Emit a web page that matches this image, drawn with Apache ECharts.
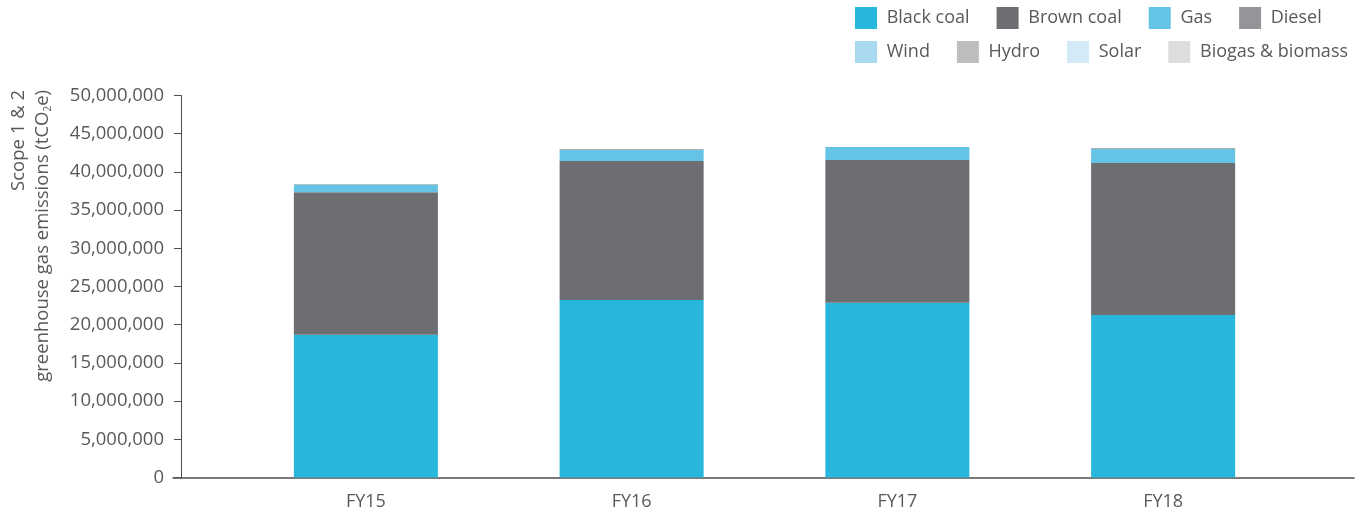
<!DOCTYPE html>
<html>
<head>
<meta charset="utf-8">
<script src="https://cdn.jsdelivr.net/npm/echarts@6/dist/echarts.min.js"></script>
<style>html,body{margin:0;padding:0;background:#fff}#c{width:1368px;height:515px}</style>
</head>
<body>
<div id="c"></div>
<script>
const categories = ['FY15', 'FY16', 'FY17', 'FY18'];
const blackCoal = [18700000, 23230000, 22880000, 21270000];
const brownCoal = [18640000, 18200000, 18680000, 19890000];
const gas = [970000, 1440000, 1700000, 1850000];
const diesel = [80000, 100000, 0, 100000];
const wind = [0, 0, 0, 0];
const hydro = [0, 0, 0, 0];
const solar = [0, 0, 0, 0];
const biogas = [0, 0, 0, 0];
const seriesNames = ['Black coal', 'Brown coal', 'Gas', 'Diesel', 'Wind', 'Hydro', 'Solar', 'Biogas & biomass'];
const seriesData = [blackCoal, brownCoal, gas, diesel, wind, hydro, solar, biogas];
const colors = ['#29b6dc', '#6d6e71', '#65c4e5', '#939598', '#a8d9ef', '#bcbec0', '#d2ebf6', '#dcdddf'];
const yAxisTitle = '{a|Scope 1 & 2}\n{a|greenhouse gas emissions (tCO}{s|2}{a|e)}';

const FONT = '"Open Sans", "Noto Sans", sans-serif';
const TXT = '#58595b';

const legendBase = {
  left: 855,
  padding: 0,
  itemWidth: 22,
  itemHeight: 22,
  itemGap: 27,
  icon: 'rect',
  orient: 'horizontal',
  formatter: n => ' ' + n,
  textStyle: { fontFamily: FONT, fontSize: 18, color: TXT }
};

const chart = echarts.init(document.getElementById('c'));
chart.setOption({
  animation: false,
  color: colors,
  textStyle: { fontFamily: FONT },
  legend: [
    Object.assign({}, legendBase, { top: 7, data: seriesNames.slice(0, 4) }),
    Object.assign({}, legendBase, { top: 41, data: seriesNames.slice(4) })
  ],
  graphic: [{
    type: 'text',
    x: 7,
    y: 90,
    rotation: Math.PI / 2,
    silent: true,
    style: {
      text: yAxisTitle,
      align: 'right',
      verticalAlign: 'top',
      fill: TXT,
      fontFamily: FONT,
      fontSize: 18.5,
      lineHeight: 24,
      rich: {
        a: { fontFamily: FONT, fontSize: 18.5, fill: TXT, lineHeight: 24 },
        s: { fontFamily: FONT, fontSize: 10, fill: TXT, lineHeight: 24, padding: [10, 0, 0, 0] }
      }
    }
  }],
  grid: [
    { left: 233, right: 72, top: 95.5, bottom: 37.5, outerBoundsMode: 'none', containLabel: false },
    { left: 173, right: 14, top: 95.5, bottom: 37.5, outerBoundsMode: 'none', containLabel: false }
  ],
  xAxis: [
    {
      type: 'category',
      gridIndex: 0,
      data: categories,
      axisLine: { show: false },
      axisTick: { show: false },
      axisLabel: { fontFamily: FONT, fontSize: 18, color: TXT, margin: 15 }
    },
    {
      type: 'value',
      gridIndex: 1,
      min: 0, max: 1,
      axisLine: { show: true, lineStyle: { color: '#4d4d4f', width: 1.5 } },
      axisTick: { show: false },
      axisLabel: { show: false },
      splitLine: { show: false }
    }
  ],
  yAxis: [
    {
      type: 'value',
      gridIndex: 0,
      min: 0,
      max: 50000000,
      interval: 5000000,
      offset: 52,
      axisLine: { show: true, lineStyle: { color: '#4d4d4f', width: 1 } },
      axisTick: { show: true, length: 7, lineStyle: { color: '#4d4d4f' } },
      splitLine: { show: false },
      axisLabel: {
        fontFamily: FONT, fontSize: 18.5, color: TXT, margin: 17,
        formatter: v => v.toLocaleString('en-US')
      }
    },
    {
      type: 'value',
      gridIndex: 1,
      show: false
    }
  ],
  series: seriesNames.map((n, i) => ({
    name: n,
    type: 'bar',
    stack: 'total',
    xAxisIndex: 0,
    yAxisIndex: 0,
    barWidth: '54.2%',
    data: seriesData[i],
    itemStyle: { color: colors[i] }
  }))
});
</script>
</body>
</html>
